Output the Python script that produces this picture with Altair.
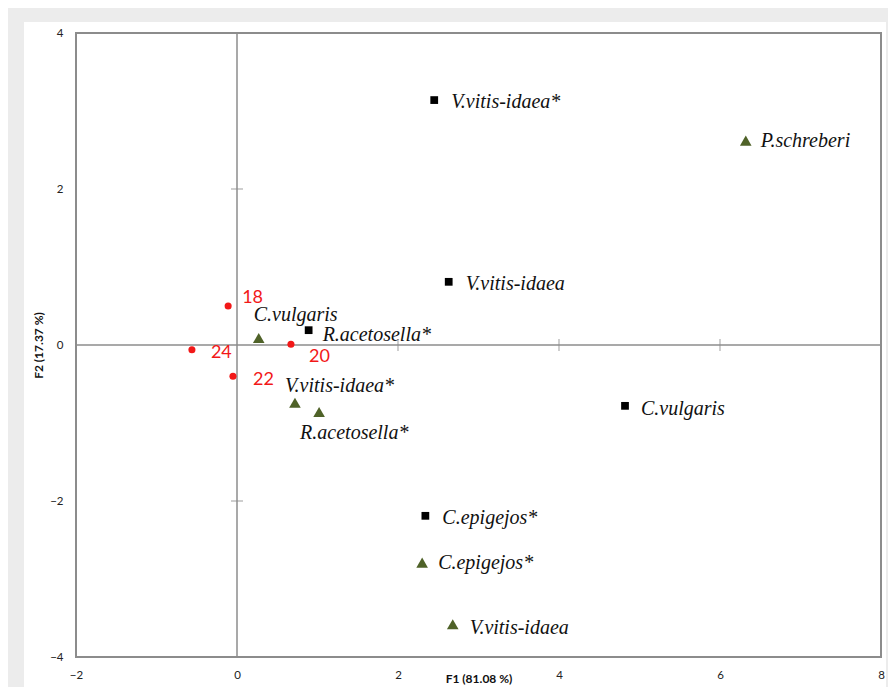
import altair as alt
import pandas as pd

# ---- data ----
sq_labels = ["V.vitis-idaea*", "V.vitis-idaea", "R.acetosella*", "C.vulgaris", "C.epigejos*"]
sq_f1 = [2.45, 2.63, 0.89, 4.82, 2.34]
sq_f2 = [3.14, 0.81, 0.19, -0.78, -2.19]

tri_labels = ["P.schreberi", "C.vulgaris", "V.vitis-idaea*", "R.acetosella*", "C.epigejos*", "V.vitis-idaea"]
tri_f1 = [6.32, 0.27, 0.72, 1.02, 2.30, 2.68]
tri_f2 = [2.62, 0.09, -0.74, -0.86, -2.79, -3.58]

site_labels = ["18", "24", "22", "20"]
site_f1 = [-0.11, -0.56, -0.05, 0.67]
site_f2 = [0.50, -0.06, -0.40, 0.01]

x_tick_values = [-2, 0, 2, 4, 6, 8]
y_tick_values = [-4, -2, 0, 2, 4]
cross_x = [2, 4, 6]
cross_y = [-2, 2]

# ---- label offsets (style, pixels) ----
sq_off = [(17, 2), (17, 2), (14, 5), (16, 3), (17, 2)]
tri_off = [(15, 0), (-5, -23), (-10, -17), (-19, 21), (16, 0), (17, 4)]
site_off = [(14, -8), (19, 3), (20, 4), (18, 13)]

W, H = 805, 624
GREY = "#8c8c8c"
GREEN = "#4f6228"
RED = "#f21818"
SERIF = "Liberation Serif, Times New Roman, Tinos, DejaVu Serif, serif"

rows = []
for grp, labs, xs, ys in [("sq", sq_labels, sq_f1, sq_f2),
                          ("tri", tri_labels, tri_f1, tri_f2),
                          ("site", site_labels, site_f1, site_f2)]:
    for i, (l, a, b) in enumerate(zip(labs, xs, ys)):
        rows.append({"id": f"{grp}{i}", "grp": grp, "label": l, "f1": a, "f2": b})
df = pd.DataFrame(rows)

x_scale = alt.Scale(domain=[-2, 8], nice=False, zero=False)
y_scale = alt.Scale(domain=[-4, 4], nice=False, zero=False)

x_axis = alt.Axis(values=x_tick_values, title="F1 (81.08 %)", domain=False, ticks=False,
                  grid=False, labelPadding=12, labelFont="Lato", labelFontSize=11.5,
                  labelColor="#222222", labelFlush=False, labelOverlap=False,
                  titleFont="Lato", titleFontSize=12, titleFontWeight="bold",
                  titleColor="#111111", titleY=21, titleBaseline="middle", zindex=1)
y_axis = alt.Axis(values=y_tick_values, title="F2 (17.37 %)", domain=False, ticks=False,
                  grid=False, labelPadding=13, labelFont="Lato", labelFontSize=11.5,
                  labelColor="#222222", labelFlush=False, labelOverlap=False,
                  titleFont="Lato", titleFontSize=12, titleFontWeight="bold",
                  titleColor="#111111", titleX=-38, titleY=H / 2, titleAngle=270,
                  titleAlign="center", titleBaseline="middle", zindex=1)

X = alt.X("f1:Q", scale=x_scale, axis=x_axis)
Y = alt.Y("f2:Q", scale=y_scale, axis=y_axis)

dummy = pd.DataFrame({"a": [0]})

bg = alt.Chart(dummy).mark_rect(fill="white").encode(
    x=alt.value(-52), x2=alt.value(810), y=alt.value(-11), y2=alt.value(680))

frame = alt.Chart(dummy).mark_rect(fill="white", fillOpacity=0, stroke=GREY, strokeWidth=2).encode(
    x=alt.value(0), x2=alt.value(W), y=alt.value(0), y2=alt.value(H))

zero_v = alt.Chart(pd.DataFrame({"f1": [0]})).mark_rule(color=GREY, strokeWidth=1.5).encode(x=X)
zero_h = alt.Chart(pd.DataFrame({"f2": [0]})).mark_rule(color=GREY, strokeWidth=1.5).encode(y=Y)

ticks_x = alt.Chart(pd.DataFrame({"f1": cross_x, "f2": [0] * len(cross_x)})).mark_tick(
    orient="vertical", size=12, thickness=1.2, color=GREY).encode(x=X, y=Y)
ticks_y = alt.Chart(pd.DataFrame({"f1": [0] * len(cross_y), "f2": cross_y})).mark_tick(
    orient="horizontal", size=12, thickness=1.2, color=GREY).encode(x=X, y=Y)

base = alt.Chart(df)
squares = base.transform_filter(alt.datum.grp == "sq").mark_point(
    shape="square", filled=True, size=60, color="black", opacity=1).encode(x=X, y=Y)
tris = base.transform_filter(alt.datum.grp == "tri").mark_point(
    shape="triangle-up", filled=True, size=135, color=GREEN, opacity=1).encode(x=X, y=Y)
sites = base.transform_filter(alt.datum.grp == "site").mark_point(
    shape="circle", filled=True, size=50, color=RED, opacity=1).encode(x=X, y=Y)

text_layers = []
for grp, offs in [("sq", sq_off), ("tri", tri_off), ("site", site_off)]:
    for i, (dx, dy) in enumerate(offs):
        if grp == "site":
            style = dict(font="Lato", fontSize=18, color=RED)
        else:
            style = dict(font=SERIF, fontSize=20, fontStyle="italic", color="#111111")
        text_layers.append(
            base.transform_filter(alt.datum.id == f"{grp}{i}").mark_text(
                align="left", baseline="middle", dx=dx, dy=dy, **style
            ).encode(x=X, y=Y, text="label:N")
        )

chart = alt.layer(bg, zero_v, zero_h, ticks_x, ticks_y, frame, squares, tris, sites, *text_layers).properties(
    width=W, height=H,
    padding={"left": 68, "top": 25, "right": 7, "bottom": 30},
    autosize=alt.AutoSizeParams(type="none"),
    background="#ececec",
).configure_view(stroke=None)

chart.save("out.html", embed_options={"renderer": "svg", "actions": False})
